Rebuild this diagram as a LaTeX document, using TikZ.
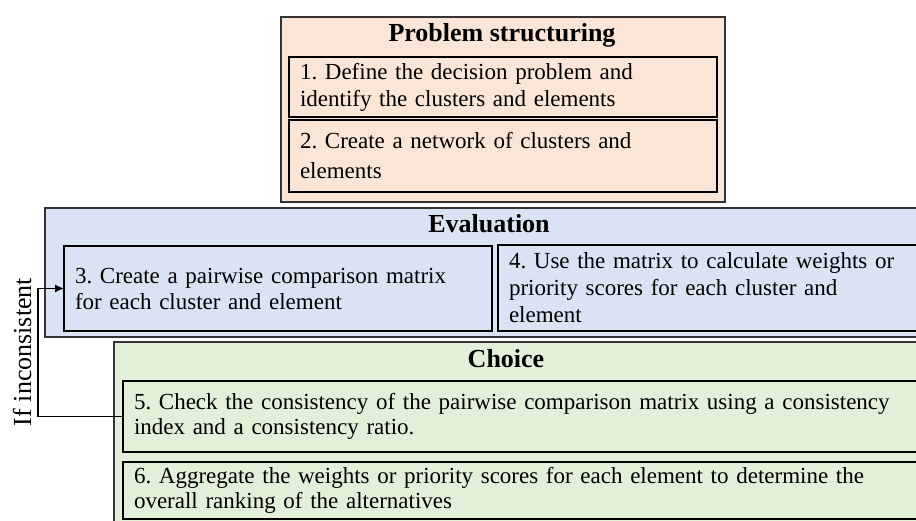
\documentclass[tikz,border=0pt]{standalone}
\usepackage{fontspec}
\setmainfont{Liberation Serif}
\usetikzlibrary{arrows.meta}
\definecolor{pinkfill}{HTML}{FBE5D6}
\definecolor{bluefill}{HTML}{DAE3F3}
\definecolor{greenfill}{HTML}{E2F0D9}
\frenchspacing
\begin{document}
\begin{tikzpicture}[x=1pt,y=-1pt,
  stagebox/.style={draw=black!80, line width=2pt, anchor=north west, outer sep=0pt, inner sep=0pt},
  stepbox/.style={draw=black, line width=1.3pt, anchor=north west, outer sep=0pt,
    inner xsep=11pt, inner ysep=0pt, align=left},
  bodyfont/.style={font=\fontsize{23}{#1}\selectfont},
  heading/.style={font=\bfseries\fontsize{26}{30}\selectfont, anchor=base, inner sep=0pt},
  feedback/.style={draw=black, line width=1.3pt}]
\useasboundingbox (0,0) rectangle (916,521);
\clip (0,0) rectangle (916,521);

% Stage 1: problem structuring
\node[stagebox, fill=pinkfill, minimum width=444pt, minimum height=185pt] (ps) at (281,17) {};
\node[heading] (pstitle) at (502,42) {Problem structuring};
\node[stepbox, fill=pinkfill, bodyfont=27, minimum width=428pt, minimum height=60pt, text width=406pt] (b1) at (289,57)
  {1. Define the decision problem and\\identify the clusters and elements};
\node[stepbox, fill=pinkfill, bodyfont=30, minimum width=428pt, minimum height=72pt, text width=406pt] (b2) at (289,120)
  {2. Create a network of clusters and\\elements};

% Stage 2: evaluation
\node[stagebox, fill=bluefill, minimum width=900pt, minimum height=129pt] (ev) at (45,208) {};
\node[heading] (evtitle) at (489,233) {Evaluation};
\node[stepbox, fill=bluefill, bodyfont=26, minimum width=428pt, minimum height=85pt, text width=406pt] (b3) at (64,246)
  {3. Create a pairwise comparison matrix\\for each cluster and element};
\node[stepbox, fill=bluefill, bodyfont=27, minimum width=440pt, minimum height=86pt, text width=418pt] (b4) at (498,245)
  {4. Use the matrix to calculate weights or\\priority scores for each cluster and\\element};

% Stage 3: choice
\node[stagebox, fill=greenfill, minimum width=830pt, minimum height=200pt] (ch) at (114,342) {};
\node[heading] (chtitle) at (506,368) {Choice};
\node[stepbox, fill=greenfill, bodyfont=25, minimum width=810pt, minimum height=71pt, text width=788pt] (b5) at (123,381)
  {5. Check the consistency of the pairwise comparison matrix using a consistency\\index and a consistency ratio.};
\node[stepbox, fill=greenfill, bodyfont=25, minimum width=810pt, minimum height=57pt, text width=788pt] (b6) at (123,462)
  {6. Aggregate the weights or priority scores for each element to determine the\\overall ranking of the alternatives};

% Feedback loop back to the pairwise comparison step
\coordinate (loop) at (38,417);
\draw[feedback, -{Latex[length=9pt,width=8pt]}] (b5.west) -- (b5.west -| loop) |- (b3.west);
\node[rotate=90, anchor=base, inner sep=0pt, font=\fontsize{26}{30}\selectfont] (iflabel) at (31,352) {If inconsistent};
\end{tikzpicture}
\end{document}
